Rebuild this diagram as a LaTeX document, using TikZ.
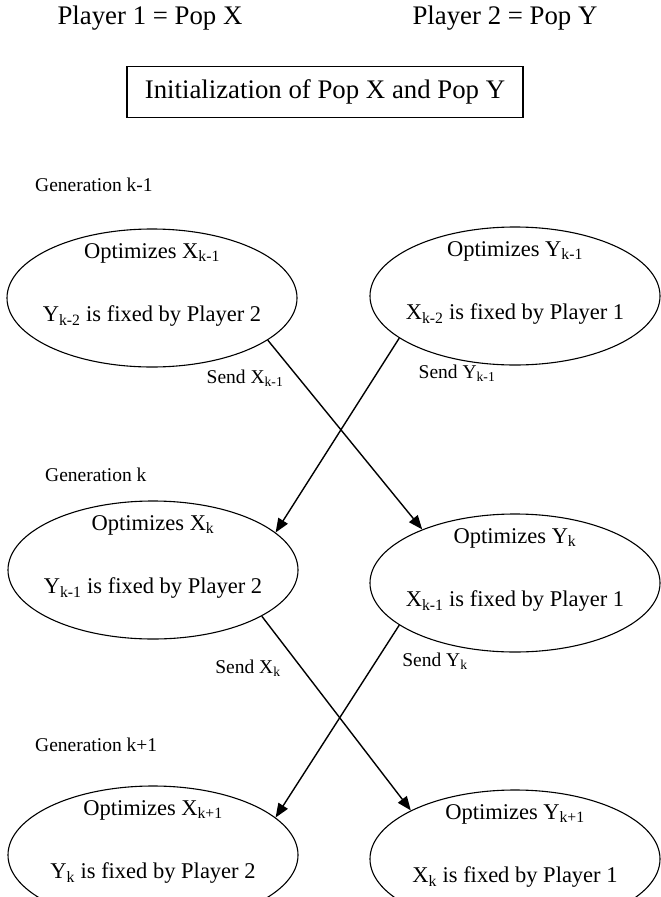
\documentclass[tikz,border=0pt]{standalone}
\usepackage{fontspec}
\setmainfont{Liberation Serif}
\usetikzlibrary{shapes.geometric,arrows.meta}
\begin{document}
\begin{tikzpicture}[x=1pt,y=-1pt,
    gen/.style={draw,ellipse,line width=1.1pt,minimum width=290pt,minimum height=138pt,inner sep=0pt},
    big/.style={font=\fontsize{26.8}{30}\selectfont,inner sep=0pt},
    mid/.style={font=\fontsize{22.5}{26}\selectfont,inner sep=0pt},
    lab/.style={font=\fontsize{19.5}{22}\selectfont,inner sep=0pt},
    send/.style={line width=1.4pt,-{Triangle[length=14pt,width=11pt]}}]
            \useasboundingbox (0,0) rectangle (661,897);
            \node[big] (p1) at (150,18) {Player 1 = Pop X};
            \node[big] (p2) at (505,18) {Player 2 = Pop Y};
            \node[big,draw,line width=1.3pt,minimum width=396pt,minimum height=51pt] (init) at (325,92) {Initialization of Pop X and Pop Y};
            % generation k-1
            \node[lab,anchor=west] (g1) at (35,185) {Generation k-1};
            \node[gen] (x1) at (152,298) {};
            \node[gen] (y1) at (515,296) {};
            \node[mid] (x1a) at ([yshift=45pt]x1.center) {Optimizes X\textsubscript{k-1}};
            \node[mid] (x1b) at ([yshift=-18pt]x1.center) {Y\textsubscript{k-2} is fixed by Player 2};
            \node[mid] (y1a) at ([yshift=45pt]y1.center) {Optimizes Y\textsubscript{k-1}};
            \node[mid] (y1b) at ([yshift=-18pt]y1.center) {X\textsubscript{k-2} is fixed by Player 1};
            \node[lab] (sx1) at (245,378) {Send X\textsubscript{k-1}};
            \node[lab] (sy1) at (457,373) {Send Y\textsubscript{k-1}};
            % generation k
            \node[lab,anchor=west] (g2) at (45,475) {Generation k};
            \node[gen] (x2) at (153,570) {};
            \node[gen] (y2) at (515,583) {};
            \node[mid] (x2a) at ([yshift=45pt]x2.center) {Optimizes X\textsubscript{k}};
            \node[mid] (x2b) at ([yshift=-18pt]x2.center) {Y\textsubscript{k-1} is fixed by Player 2};
            \node[mid] (y2a) at ([yshift=45pt]y2.center) {Optimizes Y\textsubscript{k}};
            \node[mid] (y2b) at ([yshift=-18pt]y2.center) {X\textsubscript{k-1} is fixed by Player 1};
            \node[lab] (sx2) at (248,668) {Send X\textsubscript{k}};
            \node[lab] (sy2) at (435,661) {Send Y\textsubscript{k}};
            % generation k+1
            \node[lab,anchor=west] (g3) at (35,745) {Generation k+1};
            \node[gen] (x3) at (153,855) {};
            \node[gen] (y3) at (515,859) {};
            \node[mid] (x3a) at ([yshift=45pt]x3.center) {Optimizes X\textsubscript{k+1}};
            \node[mid] (x3b) at ([yshift=-18pt]x3.center) {Y\textsubscript{k} is fixed by Player 2};
            \node[mid] (y3a) at ([yshift=45pt]y3.center) {Optimizes Y\textsubscript{k+1}};
            \node[mid] (y3b) at ([yshift=-18pt]y3.center) {X\textsubscript{k} is fixed by Player 1};
            % exchanges
            \draw[send] (x1.-20) -- (y2.150);
            \draw[send] (y1.200) -- (x2.17);
            \draw[send] (x2.-23) -- (y3.155);
            \draw[send] (y2.200) -- (x3.17);
        \end{tikzpicture}
\end{document}
